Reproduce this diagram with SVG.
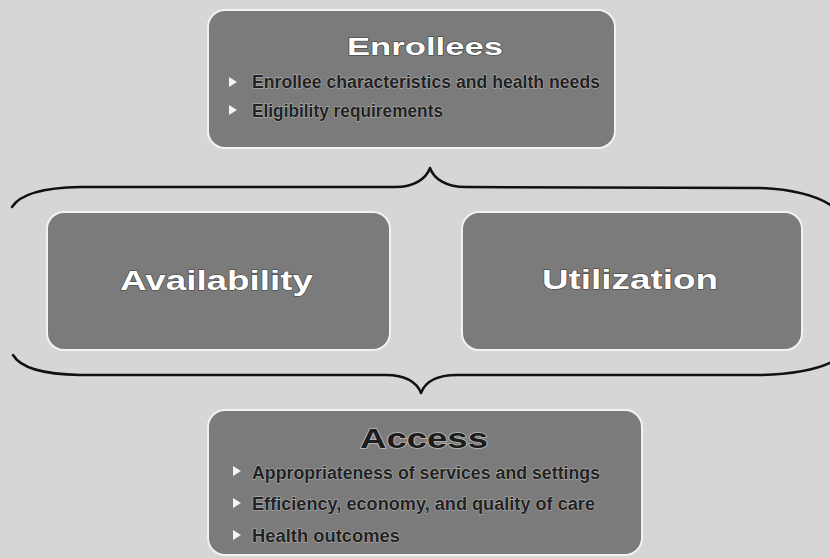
<svg xmlns="http://www.w3.org/2000/svg" width="830" height="558" viewBox="0 0 830 558">
  <style>
    .box { fill: #7b7b7b; stroke: #f2f2f2; stroke-width: 2; }
    .title { font-family: "Liberation Sans", Arial, sans-serif; font-weight: bold; fill: #ffffff; stroke: #3a3a3a; stroke-width: 1; paint-order: stroke; }
    .title-dark { font-family: "Liberation Sans", Arial, sans-serif; font-weight: bold; fill: #1c1c1c; stroke: #bdbdbd; stroke-width: 1.5; paint-order: stroke; }
    .bul { font-family: "Liberation Sans", Arial, sans-serif; font-weight: bold; font-size: 18px; fill: #222222; stroke: #b8b8b8; stroke-width: 1; paint-order: stroke; }
    .tri { fill: #f4f4f4; }
    .brace { fill: none; stroke: #111111; stroke-width: 2.5; stroke-linecap: round; stroke-linejoin: round; }
  </style>
  <rect x="0" y="0" width="830" height="558" fill="#d6d6d6"/>

  <g id="connectors">
    <path class="brace" d="M12,207 Q24,188 80,187 L395,187 C414,187 426,179 430,168 C434,179 446,187 466,187 L760,188 Q808,190 832,206"/>
    <path class="brace" d="M13,355 Q24,374 80,375 L386,375 C405,375 417,382 421,393 C425,382 437,375 457,375 L760,375 Q808,374 832,362"/>
  </g>

  <g id="enrollees">
    <rect class="box" x="208" y="10" width="407" height="138" rx="17"/>
    <text class="title" x="347" y="55" font-size="24" textLength="156" lengthAdjust="spacingAndGlyphs">Enrollees</text>
    <polygon class="tri" points="229,77 237,82 229,87"/>
    <text class="bul" x="252" y="88" textLength="348" lengthAdjust="spacingAndGlyphs">Enrollee characteristics and health needs</text>
    <polygon class="tri" points="229,105 237,110 229,115"/>
    <text class="bul" x="252" y="117" textLength="191" lengthAdjust="spacingAndGlyphs">Eligibility requirements</text>
  </g>

  <g id="availability">
    <rect class="box" x="47" y="212" width="343" height="138" rx="17"/>
    <text class="title" x="120" y="290" font-size="28" textLength="193" lengthAdjust="spacingAndGlyphs">Availability</text>
  </g>

  <g id="utilization">
    <rect class="box" x="462" y="212" width="340" height="138" rx="17"/>
    <text class="title" x="542" y="289" font-size="28" textLength="176" lengthAdjust="spacingAndGlyphs">Utilization</text>
  </g>

  <g id="access">
    <rect class="box" x="208" y="410" width="434" height="145" rx="17"/>
    <text class="title-dark" x="360" y="448" font-size="28" textLength="128" lengthAdjust="spacingAndGlyphs">Access</text>
    <polygon class="tri" points="233,466 241,471 233,476"/>
    <text class="bul" x="252" y="479" textLength="348" lengthAdjust="spacingAndGlyphs">Appropriateness of services and settings</text>
    <polygon class="tri" points="233,498 241,503 233,508"/>
    <text class="bul" x="252" y="510" textLength="343" lengthAdjust="spacingAndGlyphs">Efficiency, economy, and quality of care</text>
    <polygon class="tri" points="233,530 241,535 233,540"/>
    <text class="bul" x="252" y="542" textLength="148" lengthAdjust="spacingAndGlyphs">Health outcomes</text>
  </g>
</svg>
